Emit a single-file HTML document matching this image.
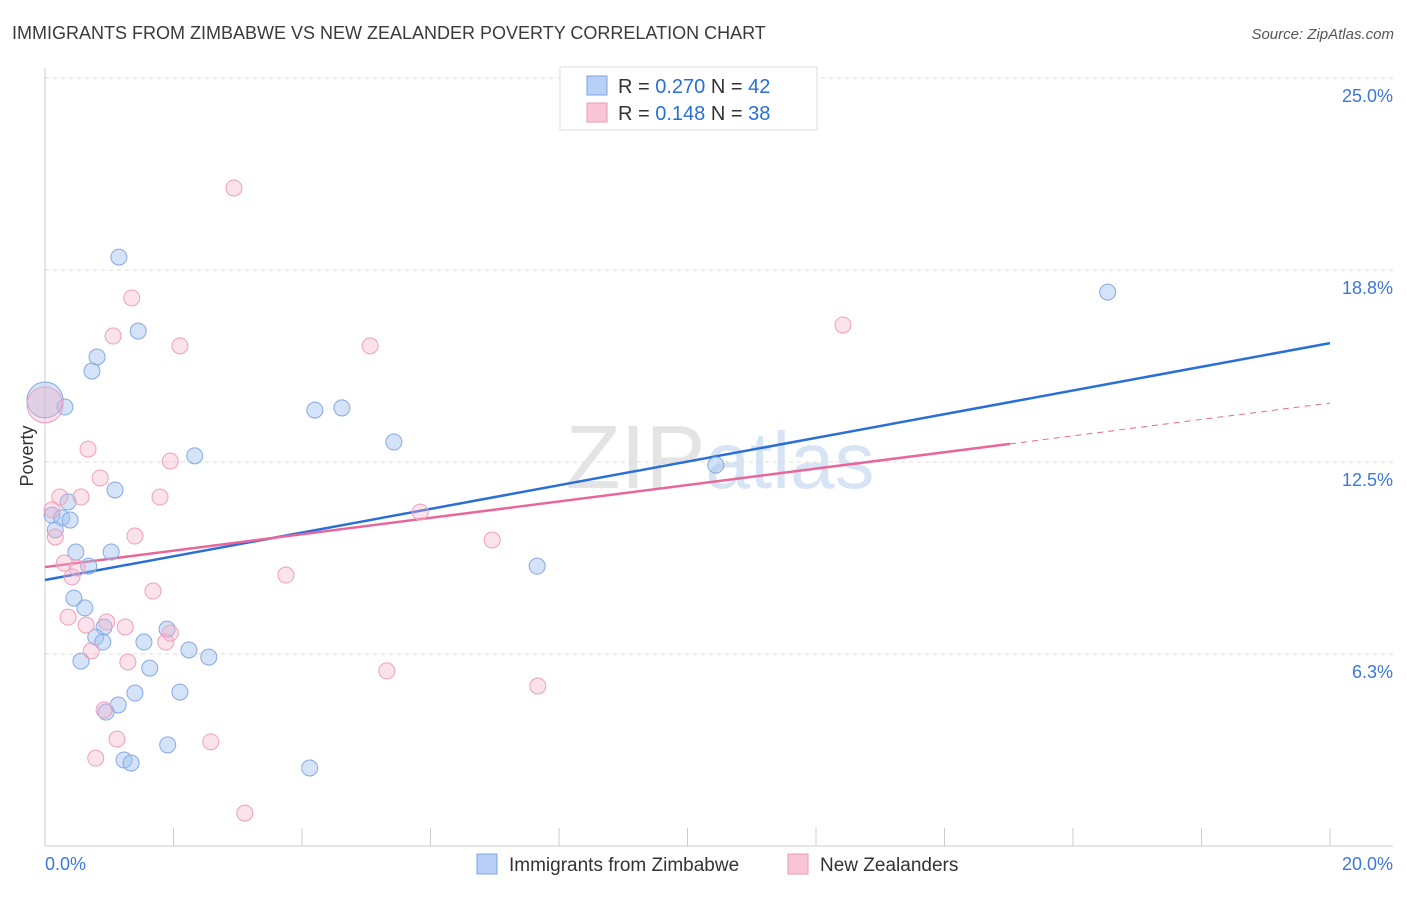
<!DOCTYPE html>
<html><head><meta charset="utf-8"><style>
body{margin:0;background:#fff;font-family:"Liberation Sans",sans-serif;}
svg text{font-family:"Liberation Sans",sans-serif;}
</style></head><body>
<svg id="chart" width="1406" height="892" xmlns="http://www.w3.org/2000/svg">
<text x="12" y="39" font-size="18" fill="#3a3a3a">IMMIGRANTS FROM ZIMBABWE VS NEW ZEALANDER POVERTY CORRELATION CHART</text>
<text x="1394" y="39" font-size="15" fill="#555" text-anchor="end" font-style="italic">Source: ZipAtlas.com</text>
<text x="720" y="488" font-size="90" text-anchor="middle" fill="#e4e4e4" font-family="Liberation Serif"><tspan>ZIP</tspan><tspan fill="#d6e4f5" font-family="Liberation Sans" font-size="80">atlas</tspan></text>
<g id="grid"></g><g id="axes"></g><g id="lines"></g><g id="points"></g>
<text transform="translate(33,456) rotate(-90)" font-size="18" fill="#333" text-anchor="middle">Poverty</text>
<g>
<rect x="560" y="67" width="257" height="63" fill="#fff" stroke="#ddd"/>
<rect x="587" y="76" width="20" height="19" fill="#b8d0f5" stroke="#7aa3e0"/>
<rect x="587" y="103" width="20" height="19" fill="#f9c6d6" stroke="#ec9ab6"/>
<text x="618" y="93" font-size="20" fill="#333">R = <tspan fill="#2a6fd6">0.270</tspan>   N = <tspan fill="#2a6fd6">42</tspan></text>
<text x="618" y="120" font-size="20" fill="#333">R =  <tspan fill="#2a6fd6">0.148</tspan>   N = <tspan fill="#2a6fd6">38</tspan></text>
</g>
<g>
<rect x="477" y="854" width="20" height="20" fill="#b8d0f5" stroke="#7aa3e0"/>
<text x="509" y="871" font-size="19" fill="#333">Immigrants from Zimbabwe</text>
<rect x="788" y="854" width="20" height="20" fill="#f9c6d6" stroke="#ec9ab6"/>
<text x="820" y="871" font-size="19" fill="#333">New Zealanders</text>
</g>
</svg>
<script>
const yTicks=[6.25,12.5,18.75,25];
const yTickLabels=["6.3%","12.5%","18.8%","25.0%"];
const xTickLabels=["0.0%","20.0%"];
const blueX=[1.15,1.45,0.81,0.73,0.31,0,4.20,4.62,5.43,2.33,1.09,0.36,0.11,0.26,0.39,0.16,0.48,1.03,0.68,0.45,0.62,0.92,0.79,0.90,1.90,1.54,2.24,2.55,0.56,1.63,1.40,2.10,1.14,0.95,1.91,1.23,1.34,4.12,7.66,10.44,16.54];
const blueY=[19.17,16.76,15.92,15.46,14.29,14.52,14.19,14.26,13.15,12.70,11.59,11.20,10.77,10.68,10.61,10.29,9.57,9.57,9.11,8.07,7.75,7.13,6.80,6.64,7.06,6.64,6.38,6.15,6.02,5.79,4.98,5.01,4.59,4.36,3.29,2.80,2.70,2.54,9.11,12.40,18.03];
const pinkX=[2.94,1.35,1.06,2.10,5.06,12.42,0.67,1.95,0.86,0.56,1.79,0.23,0.11,0.16,1.40,5.84,6.96,0.30,0.50,0.42,3.75,1.68,0.36,0.64,0.96,1.25,1.95,1.88,0.72,1.29,5.32,7.67,0.92,1.12,2.58,0.79,3.11,0];
const pinkY=[21.42,17.84,16.60,16.28,16.28,16.96,12.92,12.53,11.98,11.36,11.36,11.36,10.94,10.06,10.09,10.87,9.96,9.21,9.05,8.76,8.82,8.30,7.45,7.19,7.29,7.13,6.93,6.64,6.35,5.99,5.70,5.21,4.43,3.48,3.39,2.86,1.07,14.36];
const blueTrend=[8.66,16.37];
const pinkTrend=[9.08,14.42];
const pinkSolidEnd=15.02;
const NS="http://www.w3.org/2000/svg";
const X=v=>45+v*64.25, Y=v=>846-v*30.72;
function mk(tag,attrs,parent){const e=document.createElementNS(NS,tag);for(const k in attrs)e.setAttribute(k,attrs[k]);document.getElementById(parent).appendChild(e);return e;}
yTicks.forEach((t,i)=>{
 const g=mk('line',{x1:45,x2:1393,y1:Y(t),y2:Y(t),stroke:'#ddd','stroke-dasharray':'4,4'},'grid');
 
 
 const l=mk('text',{x:1393,y:Y(t)+24,'font-size':18,fill:'#3b78d8','text-anchor':'end'},'grid');
 l.textContent=yTickLabels[i];
 
 
});
const ax=mk('line',{x1:45,x2:1393,y1:846,y2:846,stroke:'#ccc'},'axes');


const ay=mk('line',{x1:45,x2:45,y1:68,y2:846,stroke:'#ccc'},'axes');


for(let i=0;i<=10;i++){
 const t=mk('line',{x1:X(i*2),x2:X(i*2),y1:828,y2:846,stroke:'#ccc'},'axes');
 
 
}
[[0,'start',45],[20,'end',1393]].forEach((d,i)=>{
 const t=mk('text',{x:d[2],y:870,'font-size':18,fill:'#3b78d8','text-anchor':d[1]},'axes');
 t.textContent=xTickLabels[i];
 
 
});
function dot(x,y,r,fill,stroke,name){
 const c=mk('circle',{cx:X(x),cy:Y(y),r:r,fill:fill,stroke:stroke,'stroke-width':1},'points');
 
 
}
blueX.forEach((x,i)=>dot(x,blueY[i],(x===0?18:8),'rgba(160,192,240,0.45)','#86a9e3','zimbabwe-point'));
pinkX.forEach((x,i)=>dot(x,pinkY[i],(x===0?18:8),'rgba(246,172,198,0.35)','#ef9fbb','new-zealander-point'));
const bl=mk('line',{x1:X(0),y1:Y(blueTrend[0]),x2:X(20),y2:Y(blueTrend[1]),stroke:'#2a6fd6','stroke-width':2.5},'lines');


const pyEnd=pinkTrend[0]+(pinkTrend[1]-pinkTrend[0])*pinkSolidEnd/20;
const pl=mk('line',{x1:X(0),y1:Y(pinkTrend[0]),x2:X(pinkSolidEnd),y2:Y(pyEnd),stroke:'#e8679a','stroke-width':2.5},'lines');


const pd=mk('line',{x1:X(pinkSolidEnd),y1:Y(pyEnd),x2:X(20),y2:Y(pinkTrend[1]),stroke:'#e8679a','stroke-width':1,'stroke-dasharray':'6,5'},'lines');


</script>
</body></html>
